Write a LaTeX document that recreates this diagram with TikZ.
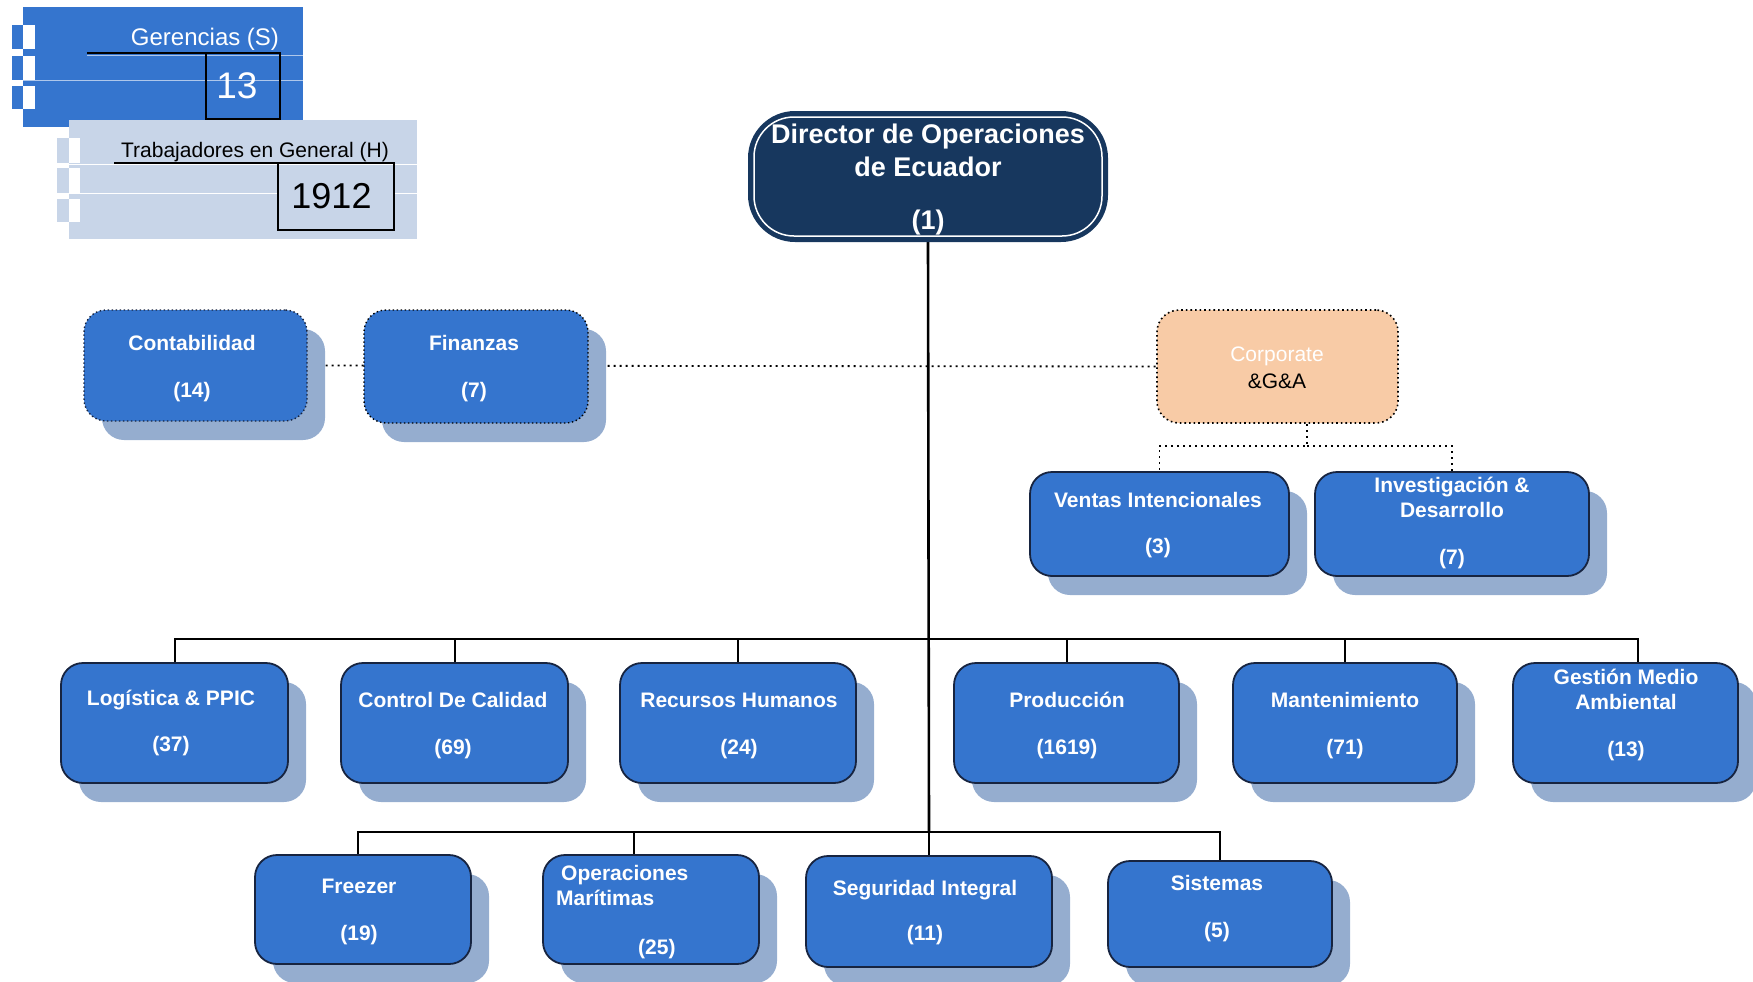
\documentclass[tikz,border=0pt]{standalone}
\usepackage{fontspec}
\setmainfont{Liberation Sans}
\usetikzlibrary{shadows,calc}
\definecolor{boxblue}{HTML}{3575CE}
\definecolor{shadowc}{HTML}{95ADCF}
\definecolor{legblue}{HTML}{3575CE}
\definecolor{leglight}{HTML}{C8D5E8}
\definecolor{navy}{HTML}{17375E}
\definecolor{peach}{HTML}{F8CBA6}
\definecolor{bordc}{HTML}{172440}
\pgfdeclarelayer{bg}
\pgfsetlayers{bg,main}
\begin{document}
\begin{tikzpicture}[x=1pt,y=-1pt,
  box/.style={rectangle, rounded corners=22pt, fill=boxblue, draw=bordc, line width=1.8pt, inner sep=0pt,
    general shadow={fill=shadowc, shadow xshift=18pt, shadow yshift=-19pt}},
  dotbox/.style={box, draw=black, line width=1.4pt, dash pattern=on 1.4pt off 2.6pt},
  lbl/.style={text=white, font=\bfseries\fontsize{21}{25}\selectfont, align=center, inner sep=0pt, yshift=-3pt},
  conn/.style={draw=black, line width=2pt},
  dotline/.style={draw=black, line width=1.8pt, dash pattern=on 1.8pt off 4.2pt},
  legtxt/.style={inner sep=0pt, font=\fontsize{21}{25}\selectfont},
  numbox/.style={draw=black, line width=1.6pt, inner sep=0pt},
]
\useasboundingbox (0,0) rectangle (1753,982);

% ---------- legend ----------
\fill[legblue] (23,7) rectangle (303,127);
\foreach \a/\b in {25/49,56/80,86/109}{
  \fill[legblue] (12,\a) rectangle (23,\b);
  \fill[white] (23,\a) rectangle (35,\b);
}
\draw[white, line width=0.8pt, opacity=0.6] (87,55) -- (306,55);
\draw[white, line width=0.8pt, opacity=0.6] (23,80) -- (306,80);
\draw[black, line width=1.3pt] (87,53) -- (280,53);
\node[legtxt, text=white, font=\fontsize{24}{28}\selectfont] (gert) at (205,39) {Gerencias (S)};
\node[numbox, minimum width=74, minimum height=66, text=white, font=\fontsize{37}{40}\selectfont] (n13) at (243,86) {\hspace*{-12pt}13};

\fill[leglight] (69,120) rectangle (417,239);
\foreach \a/\b in {138/163,168/193,199/222}{
  \fill[leglight] (57,\a) rectangle (69,\b);
  \fill[white] (69,\a) rectangle (80,\b);
}
\draw[white, line width=1pt] (69,164) -- (417,164);
\draw[white, line width=1pt] (69,193) -- (278,193);
\draw[white, line width=1pt] (394,193) -- (417,193);
\draw[black, line width=1.3pt] (114,163) -- (394,163);
\node[legtxt] (trabt) at (255,152) {Trabajadores en General (H)};
\node[numbox, minimum width=116, minimum height=67, font=\fontsize{36}{40}\selectfont] (n1912) at (336,196.5) {\hspace*{-9pt}1912};

% ---------- director ----------
\node[rectangle, rounded corners=46pt, fill=navy, draw=navy, line width=2pt, minimum width=358, minimum height=129] (dir) at (928,176.5) {};
\draw[white, line width=1.5pt, rounded corners=40pt] ($(dir.north west)+(6,6)$) rectangle ($(dir.south east)+(-6,-6)$);
\node[lbl, yshift=3pt, font=\bfseries\fontsize{27}{32.4}\selectfont] (dirt) at (928,179.7) {Director de Operaciones\\de Ecuador\\[21.2pt](1)};

% ---------- staff row ----------
\node[dotbox, draw=bordc, minimum width=223, minimum height=111] (cont) at (195.5,365.5) {};
\node[lbl] (contt) at (192,365.5) {Contabilidad\\[22pt](14)};
\node[dotbox, minimum width=224, minimum height=113] (fin) at (476,366.5) {};
\node[lbl] (fint) at (474,365.5) {Finanzas\\[22pt](7)};
\node[rectangle, rounded corners=22pt, fill=peach, draw=black, line width=1.6pt, dash pattern=on 1.6pt off 3pt, minimum width=241, minimum height=113] (corp) at (1277.5,366.5) {};
\node[inner sep=0pt, align=center, yshift=-2.5pt, font=\fontsize{21}{27}\selectfont] (corpt) at (1277,365) {\textcolor{white}{Corporate}\\\&G\&A};

\node[box, minimum width=259, minimum height=104] (ven) at (1159.5,524) {};
\node[lbl] (vent) at (1158,522) {Ventas Intencionales\\[21pt](3)};
\node[box, minimum width=274, minimum height=104] (inv) at (1452,524) {};
\node[lbl] (invt) at (1452,520) {Investigación \&\\Desarrollo\\[22pt](7)};

% ---------- row 2 ----------
\node[box, minimum width=227, minimum height=120] (log) at (174.5,723) {};
\node[lbl] (logt) at (171,720) {Logística \& PPIC\\[21pt](37)};
\node[box, minimum width=227, minimum height=120] (cal) at (454.5,723) {};
\node[lbl] (calt) at (453,722.5) {Control De Calidad\\[22pt](69)};
\node[box, minimum width=236, minimum height=120] (rh) at (738,723) {};
\node[lbl] (rht) at (739,722.5) {Recursos Humanos\\[22pt](24)};
\node[box, minimum width=225, minimum height=120] (prod) at (1066.5,723) {};
\node[lbl] (prodt) at (1067,722.5) {Producción\\[22pt](1619)};
\node[box, minimum width=224, minimum height=120] (mant) at (1345,723) {};
\node[lbl] (mantt) at (1345,722.5) {Mantenimiento\\[22pt](71)};
\node[box, minimum width=225, minimum height=120] (gest) at (1625.5,723) {};
\node[lbl] (gestt) at (1626,712) {Gestión Medio\\Ambiental\\[22pt](13)};

% ---------- row 3 ----------
\node[box, minimum width=216, minimum height=109] (fz) at (363,909.5) {};
\node[lbl] (fzt) at (359,908.5) {Freezer\\[22pt](19)};
\node[box, minimum width=216, minimum height=109] (ops) at (651,909.5) {};
\node[lbl, align=left, anchor=west] (opst) at (556,909) {\hspace*{5pt}Operaciones\\Marítimas\\[24pt]\hspace*{82pt}(25)};
\node[box, minimum width=246, minimum height=111] (seg) at (929,911.5) {};
\node[lbl] (segt) at (925,909.5) {Seguridad Integral\\[20pt](11)};
\node[box, minimum width=224, minimum height=106] (sis) at (1220,914) {};
\node[lbl] (sist) at (1217,905.5) {Sistemas\\[22pt](5)};

% ---------- connectors ----------
\coordinate (b2) at (929,639);
\coordinate (b3) at (929,832);
\coordinate (gtop) at ($(gest.north)+(12,0)$);
\coordinate (otop) at ($(ops.north)+(-17,0)$);
\coordinate (ftop) at ($(fz.north)+(-5,0)$);
\coordinate (cj) at (1307,446);
\begin{pgfonlayer}{bg}
\draw[conn, line width=2.6pt] (dir.south) -- (b3);
\draw[conn] (log.north) -- (log.north |- b2) -- (gtop |- b2) -- (gtop);
\foreach \n in {cal,rh,prod,mant}{\draw[conn] (\n.north) -- (\n.north |- b2);}
\draw[conn] (ftop) -- (ftop |- b3) -- (b3);
\draw[conn, line width=1.6pt] (b3) -- (sis.north |- b3) -- (sis.north);
\draw[conn] (otop) -- (otop |- b3);
\draw[conn] (seg.north) -- (b3);
\draw[dotline] (cont.east) -- (corp.west);
\draw[dotline] (corp.south -| cj) -- (cj) -| (ven.north);
\draw[dotline] (cj) -| (inv.north);
\end{pgfonlayer}
\end{tikzpicture}
\end{document}
